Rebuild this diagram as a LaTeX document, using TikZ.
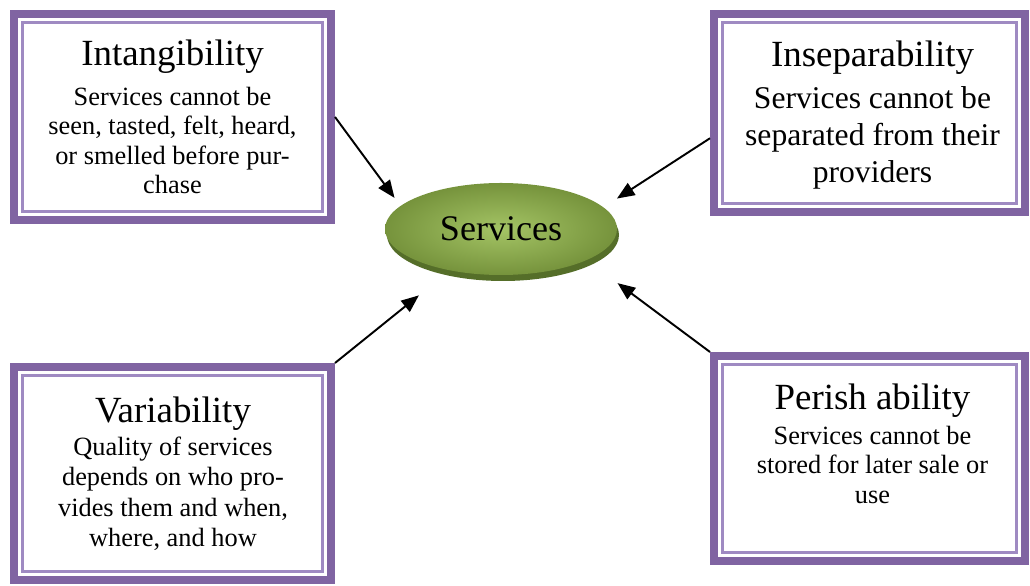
\documentclass[tikz,border=0pt]{standalone}
\usepackage{fontspec}
\setmainfont{Liberation Serif}
\usetikzlibrary{shapes.geometric,arrows.meta}
\definecolor{boxpurple}{HTML}{8064A2}
\definecolor{linepurple}{HTML}{9F8AC2}
\definecolor{servgreen}{HTML}{76933C}
\definecolor{servlight}{HTML}{A4C465}
\definecolor{servdark}{HTML}{556E29}
\tikzset{
  prop/.style={draw=boxpurple, line width=0.16cm, fill=white, inner sep=0pt},
  inline/.style={draw=linepurple, line width=1.4pt},
  txt/.style={align=center, inner sep=0pt, anchor=north, font=\fontsize{15}{16.7}\selectfont},
  arr/.style={-{Triangle[length=10pt,width=8pt]}, line width=1.1pt},
}
\newcommand{\ttl}[1]{{\fontsize{21}{24}\selectfont #1}}

\begin{document}
\begin{tikzpicture}
\useasboundingbox (0,0) rectangle (20.6,11.72);
% the four boxes
\node[prop, minimum width=6.34cm, minimum height=4.12cm] (intang) at (3.45,9.38) {};
\node[prop, minimum width=6.22cm, minimum height=3.96cm] (insep) at (17.39,9.46) {};
\node[prop, minimum width=6.34cm, minimum height=4.26cm] (vari) at (3.45,2.25) {};
\node[prop, minimum width=6.22cm, minimum height=4.10cm] (perish) at (17.39,2.55) {};
\foreach \b in {intang,insep,vari,perish}
  \draw[inline] ([shift={(0.25,-0.25)}]\b.north west) rectangle ([shift={(-0.25,0.25)}]\b.south east);
% the ellipse in the middle
\fill[servdark] (10.06,7.02) ellipse (2.32 and 0.92);
\node[ellipse, inner color=servlight, outer color=servgreen, minimum width=4.64cm, minimum height=1.84cm, font=\fontsize{20.5}{24}\selectfont] (serv) at (10.02,7.14) {Services};
% texts
\node[txt] (intangtxt) at (3.45,10.93) {\ttl{Intangibility}\\[6pt] Services cannot be\\ seen, tasted, felt, heard,\\ or smelled before pur-\\ chase};
\node[txt, font=\fontsize{18}{20.9}\selectfont] (inseptxt) at (17.45,10.9) {\ttl{Inseparability}\\[3pt] Services cannot be\\ separated from their\\ providers};
\node[txt, font=\fontsize{15}{17.3}\selectfont] (varitxt) at (3.46,3.79) {\ttl{Variability}\\[1.5pt] Quality of services\\ depends on who pro-\\ vides them and when,\\ where, and how};
\node[txt] (perishtxt) at (17.45,4.05) {\ttl{Perish ability}\\[3.2pt] Services cannot be\\ stored for later sale or\\ use};
% arrows
\draw[arr, shorten >=1.95mm] (intang.east) -- (serv.167);
\draw[arr, shorten >=3.17mm] (insep.189) -- (serv.12);
\draw[arr, shorten >=7.9mm] (vari.north east) -- (serv.219);
\draw[arr, shorten >=7.65mm] (perish.north west) -- (serv.340);
\end{tikzpicture}
\end{document}
